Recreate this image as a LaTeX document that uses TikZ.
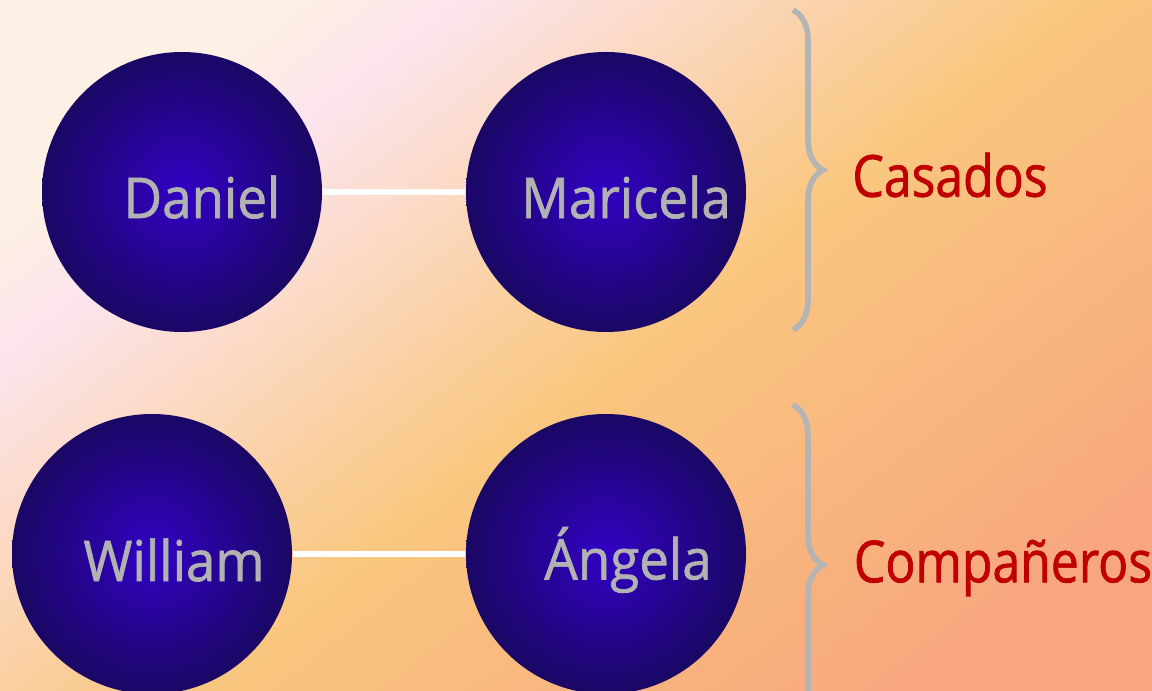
\documentclass[tikz,border=0pt]{standalone}
\usepackage{fontspec}
\setmainfont{Open Sans}
\newfontfamily\namefont[FakeStretch=0.94, FakeBold=1.2]{Open Sans}
\newfontfamily\groupfont[FakeStretch=0.86, FakeBold=1.2]{Open Sans}
\usetikzlibrary{decorations.pathreplacing}

\definecolor{bgcream}{HTML}{FDF0E4}
\definecolor{bgpink}{HTML}{FCE4EC}
\definecolor{bgorange}{HTML}{F9C77F}
\definecolor{bgsalmon}{HTML}{F8A67E}
\definecolor{blobin}{HTML}{3202C4}
\definecolor{blobout}{HTML}{1A0764}
\definecolor{namegray}{HTML}{B2B2B2}
\definecolor{groupred}{HTML}{C00000}
\definecolor{bracegray}{HTML}{B4B4B4}

\pgfdeclarehorizontalshading{bgshade}{100bp}{color(0bp)=(bgcream); color(25bp)=(bgcream); color(31bp)=(bgpink); color(52bp)=(bgorange); color(77bp)=(bgsalmon); color(100bp)=(bgsalmon)}

\begin{document}
\begin{tikzpicture}[
	person/.style={circle, minimum size=2.8cm, inner sep=0pt, inner color=blobin, outer color=blobout},
	personname/.style={text=namegray, font=\namefont\fontsize{16}{16}\selectfont},
	grouplabel/.style={text=groupred, font=\groupfont\fontsize{16.5}{16.5}\selectfont},
	partner/.style={draw=white, line width=1.8pt},
	bracket/.style={draw=bracegray, line width=1.6pt, decorate, decoration={brace, amplitude=0.3cm}}
]
	% Background
	\useasboundingbox (0,0) rectangle (11.52,6.90);
	\clip (0,0) rectangle (11.52,6.90);
	\shade [shading=bgshade, shading angle=-52] (0,0) rectangle (11.52,6.90);

	% Define nodes
	\node [person, label={[personname, xshift=2mm, yshift=-0.5mm]center:Daniel}] (daniel) at (1.82,4.98) {};
	\node [person, label={[personname, xshift=2mm, yshift=-0.5mm]center:Maricela}] (maricela) at (6.06,4.98) {};
	\node [person, label={[personname, xshift=2.2mm, yshift=-0.6mm]center:William}] (william) at (1.52,1.36) {};
	\node [person, label={[personname, xshift=2.2mm, yshift=-0.6mm]center:Ángela}] (angela) at (6.06,1.36) {};

	% Draw edges
	\draw [partner] (daniel) -- (maricela);
	\draw [partner] (william) -- (angela);

	% Braces and group labels
	\draw [bracket] (7.93,6.80) -- (7.93,3.60);
	\draw [bracket] (7.93,2.85) -- (7.93,-0.35);
	\node [grouplabel] (casados) at (9.50,5.15) {Casados};
	\node [grouplabel] (companeros) at (10.03,1.22) {Compañeros};
\end{tikzpicture}
\end{document}
